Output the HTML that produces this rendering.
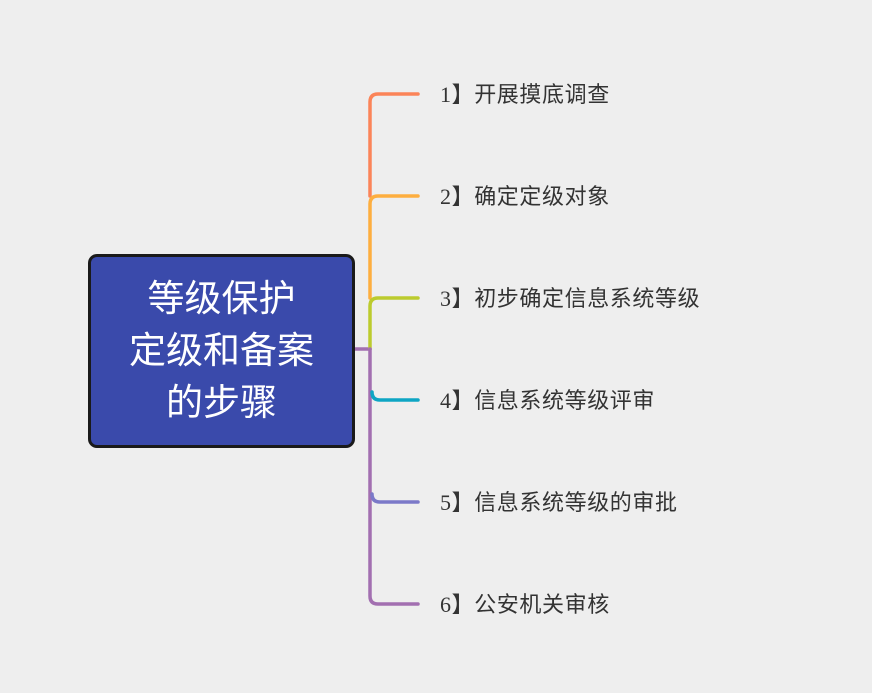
<!DOCTYPE html>
<html><head><meta charset="utf-8"><style>
body{margin:0;width:872px;height:693px;background:#eeeeee;overflow:hidden;position:relative;font-family:"Liberation Sans","Noto Sans CJK SC",sans-serif}
.box{position:absolute;left:88px;top:254px;width:261px;height:188px;background:#3a4aab;border:3px solid #1a1a1a;border-radius:9px;color:#fff;font-size:37px;line-height:52px;text-align:center;display:flex;flex-direction:column;justify-content:center}
.l{position:absolute;left:440px;font-size:22px;color:#333;line-height:24px;white-space:nowrap;letter-spacing:0.6px}
.l b{font-family:"Liberation Serif","Noto Serif CJK SC",serif;font-weight:normal}
</style></head><body>
<svg width="872" height="693" style="position:absolute;left:0;top:0" fill="none" stroke-width="3.5" stroke-linecap="round">
<path d="M355 349 H370" stroke="#a26fb0"/>
<path d="M370 196 V102 Q370 94 378 94 H418" stroke="#fb8458"/>
<path d="M370 298 V204 Q370 196 378 196 H418" stroke="#fdae3f"/>
<path d="M370 349 V306 Q370 298 378 298 H418" stroke="#bccb2e"/>
<path d="M370 349 V596 Q370 604 378 604 H418" stroke="#a26fb0"/>
<path d="M372 392 Q372 400 380 400 H418" stroke="#0ea5c4"/>
<path d="M372 494 Q372 502 380 502 H418" stroke="#7b79c8"/>
</svg>
<div class="box"><div>等级保护</div><div>定级和备案</div><div>的步骤</div></div>
<div class="l" style="top:83px"><b>1</b>】开展摸底调查</div>
<div class="l" style="top:185px"><b>2</b>】确定定级对象</div>
<div class="l" style="top:287px"><b>3</b>】初步确定信息系统等级</div>
<div class="l" style="top:389px"><b>4</b>】信息系统等级评审</div>
<div class="l" style="top:491px"><b>5</b>】信息系统等级的审批</div>
<div class="l" style="top:593px"><b>6</b>】公安机关审核</div>
</body></html>
